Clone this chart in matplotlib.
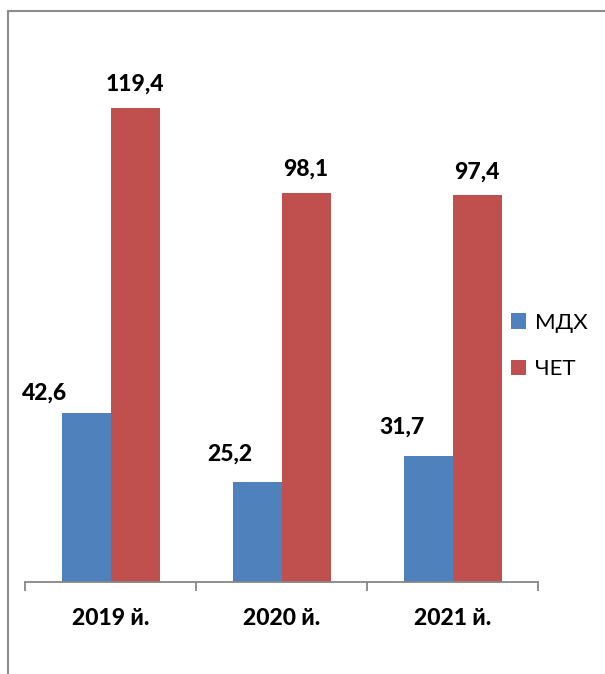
import matplotlib
matplotlib.use("Agg")
import matplotlib.pyplot as plt
from matplotlib.patches import Patch
from matplotlib.lines import Line2D
import numpy as np

categories = ["2019 й.", "2020 й.", "2021 й."]
series_names = ["МДХ", "ЧЕТ"]
mdx = [42.6, 25.2, 31.7]
chet = [119.4, 98.1, 97.4]
mdx_labels = ["42,6", "25,2", "31,7"]
chet_labels = ["119,4", "98,1", "97,4"]

plt.rcParams['font.family'] = ['Lato', 'DejaVu Sans']

W, H = 605, 674
fig = plt.figure(figsize=(W / 100, H / 100), dpi=100)
fig.patch.set_facecolor("white")

ax_left, ax_right, ax_bottom, ax_top = 25, 538, 582, 20
ax = fig.add_axes([ax_left / W, (H - ax_bottom) / H,
                   (ax_right - ax_left) / W, (ax_bottom - ax_top) / H])

px_per_unit = 474 / 119.4
ax.set_ylim(0, (ax_bottom - ax_top) / px_per_unit)
ax.set_xlim(-0.5, 2.5)

blue = "#4F81BD"
red = "#C0504D"
w = 49 / 171
x = np.arange(len(categories))
b1 = ax.bar(x - w / 2, mdx, width=w, color=blue, label=series_names[0])
b2 = ax.bar(x + w / 2, chet, width=w, color=red, label=series_names[1])

label_font = dict(fontsize=16.5, fontweight="black", color="black")
mdx_offsets = [(-42, 13), (-27, 21), (-26, 23)]
for i, (rect, lab) in enumerate(zip(b1, mdx_labels)):
    ax.annotate(lab, (rect.get_x() + rect.get_width() / 2, rect.get_height()),
                xytext=mdx_offsets[i], textcoords="offset pixels",
                ha="center", va="baseline", **label_font)
for rect, lab in zip(b2, chet_labels):
    ax.annotate(lab, (rect.get_x() + rect.get_width() / 2, rect.get_height()),
                xytext=(0, 17), textcoords="offset pixels",
                ha="center", va="baseline", **label_font)

for s in ["top", "left", "right"]:
    ax.spines[s].set_visible(False)
ax.spines["bottom"].set_color("#868686")
ax.spines["bottom"].set_linewidth(1.3)
ax.set_yticks([])
ax.set_xticks(x)
ax.set_xticklabels(categories, fontsize=16.5, fontweight="black")
ax.tick_params(axis="x", which="major", length=0, pad=19)
ax.set_xticks([-0.5, 0.5, 1.5, 2.5], minor=True)
ax.tick_params(axis="x", which="minor", length=6.5, width=1.3, color="#868686", direction="out")

handles = [Patch(facecolor=blue, edgecolor="none"), Patch(facecolor=red, edgecolor="none")]
fig.legend(handles, series_names, loc="center left",
           bbox_to_anchor=(502 / W, 1 - 346 / H), frameon=False,
           fontsize=16, handlelength=0.68, handleheight=0.68,
           handletextpad=0.4, labelspacing=1.2, borderaxespad=0)

# outer frame (left and top edges visible)
fig.add_artist(Line2D([7.5 / W, 7.5 / W], [0, 1 - 11 / H], transform=fig.transFigure,
                      color="#8C8C8C", linewidth=1.5))
fig.add_artist(Line2D([7.5 / W, 1], [1 - 11 / H, 1 - 11 / H], transform=fig.transFigure,
                      color="#8C8C8C", linewidth=1.5))

fig.savefig("out.png", dpi=100, facecolor="white")
